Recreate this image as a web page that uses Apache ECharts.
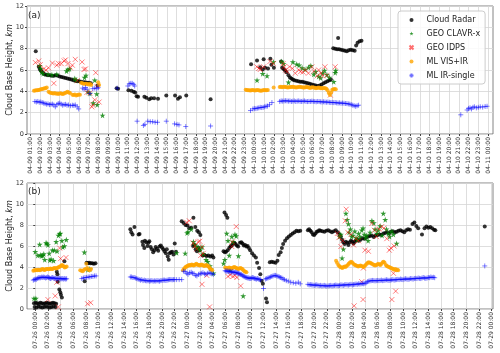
<!DOCTYPE html>
<html>
<head>
<meta charset="utf-8">
<script src="https://cdn.jsdelivr.net/npm/echarts@6/dist/echarts.min.js"></script>
<style>
html, body { margin: 0; padding: 0; background: #fff; }
#chart { width: 500px; height: 353px; }
</style>
</head>
<body>
<div id="chart"></div>
<script>
// x = hours since 04-09 00:00 (panel a) / since 07-26 00:00 (panel b), y = km
var ticksA = [1,2,3,4,5,6,7,8,9,10,11,12,13,14,15,16,17,18,19,20,21,22,23,24,25,26,27,28,29,30,31,32,33,34,35,36,37,38,39,40,41,42,43,44,45,46,47,48];
var ticksB = [0,2,4,6,8,10,12,14,16,18,20,22,24,26,28,30,32,34,36,38,40,42,44,46,48,50,52,54,56,58,60,62,64,66,68,70,72];

var radarA = [[1.54,7.75],[1.85,6.3],[1.95,6.1],[2.05,5.95],[2.15,5.85],[2.3,5.7],[2.45,5.6],[2.6,5.55],[2.8,5.5],[3.0,5.5],[3.2,5.45],[3.4,5.45],[3.6,5.5],[3.8,5.45],[4.0,5.4],[4.2,5.35],[4.4,5.3],[4.6,5.25],[4.8,5.2],[5.0,5.15],[5.2,5.1],[5.4,5.05],[5.6,5.0],[5.8,4.95],[6.0,4.95],[6.2,4.9],[6.4,4.85],[6.6,4.85],[6.8,4.8],[7.0,4.8],[7.2,4.75],[7.9,4.55],[9.85,4.3],[10.0,4.25],
  [11.06,4.1],[11.37,4.05],[11.6,3.95],[11.75,3.88],[11.9,3.55],[12.05,3.5],[12.7,3.5],[12.9,3.4],[13.2,3.25],[13.4,3.35],[13.7,3.35],[14.1,3.3],[14.95,3.6],[15.85,3.6],[16.15,3.3],[16.35,3.45],[17.0,3.6],[19.5,3.25],
  [23.66,6.55],[24.27,6.9],[24.95,7.0],[25.64,7.05],[24.6,6.25],[24.85,6.05],[25.1,6.2],[25.4,6.15],[25.75,6.5],[26.0,6.2],
  [26.74,6.8],[26.85,6.2],[27.0,6.1],[27.15,5.95],[27.3,5.8],[27.5,5.5],[27.65,5.3],[27.8,5.2],[27.95,5.1],[28.1,5.05],[28.3,5.0],[28.5,4.95],[28.7,4.9],[28.9,4.9],[29.1,4.85],[29.3,4.8],[29.5,4.75],[29.7,4.7],[29.9,4.65],[30.1,4.6],[30.3,4.55],[30.5,4.5],[30.7,4.55],[30.9,4.65],[31.1,4.75],[31.3,4.85],[31.5,4.95],[31.7,5.05],[31.85,5.1],
  [32.1,8.05],[32.3,8.0],[32.5,7.95],[32.6,9.0],[32.7,7.95],[32.9,7.9],[33.1,7.85],[33.3,7.8],[33.5,7.75],[33.7,7.85],[33.9,7.9],[34.1,7.85],[34.3,7.8],[34.45,8.3],[34.6,8.55],[34.8,8.7],[35.0,8.75]];

var clavrA = [[1.95,6.4],[2.05,6.1],[2.15,5.8],[2.3,5.65],[2.8,5.6],[3.2,5.55],[3.7,5.6],[4.7,5.9],[4.85,6.05],[5.0,6.1],[5.55,5.2],[5.7,5.05],[6.55,5.3],[6.7,5.5],[6.9,3.95],[7.1,3.8],[7.6,5.05],[7.8,3.75],[7.45,2.9],[7.85,2.75],[8.4,1.75],
  [24.27,5.05],[24.85,5.65],[25.3,5.45],[25.95,6.75],[26.8,6.8],[27.0,6.6],[27.5,4.85],[27.95,6.75],[28.35,6.55],[28.6,6.45],[28.9,6.2],[29.2,6.05],[29.55,6.25],[29.8,6.4],[30.1,5.6],[30.3,5.85],[30.6,5.4],[30.8,5.25],[31.0,5.7],[31.2,5.95],[31.45,5.55],[31.7,5.3],[32.15,4.9],[32.3,5.75],[32.35,5.95]];

var idpsA = [[1.5,6.7],[1.85,6.85],[2.0,6.5],[2.35,6.1],[2.6,6.0],[2.85,6.2],[3.25,6.65],[3.4,4.75],[3.7,6.45],[3.9,6.6],[4.15,6.6],[4.45,6.85],[4.6,6.95],[4.85,6.6],[5.1,6.2],[5.3,6.45],[5.6,7.0],[5.8,5.0],[6.3,6.75],[6.5,6.05],[6.65,6.1],[6.8,3.9],[7.1,3.85],[7.3,2.55],[7.4,2.7],[7.6,3.2],[7.7,5.75],[7.85,4.45],[8.05,3.0],
  [24.25,6.3],[24.45,6.15],[24.6,6.05],[24.95,6.3],[25.6,6.8],[25.95,6.6],[26.95,6.6],[27.05,6.3],[27.2,6.0],[27.35,5.85],[27.6,6.3],[27.9,6.15],[28.2,5.7],[28.55,6.0],[28.75,5.85],[29.0,5.8],[29.25,6.0],[29.55,5.7],[29.9,6.3],[30.1,5.9],[30.45,5.45],[30.6,6.0],[30.85,5.7],[31.0,5.45],[31.25,6.3],[31.45,5.5],[31.8,3.65],[32.3,6.3]];

var visirA = [[1.35,4.05],[1.47,4.08],[1.59,4.1],[1.71,4.1],[1.83,4.12],[1.95,4.15],[2.07,4.2],[2.19,4.22],[2.31,4.25],[2.43,4.3],[2.55,4.3],[2.67,4.35],
  [2.85,3.95],[2.98,3.9],[3.11,3.85],[3.24,3.82],[3.37,3.8],[3.5,3.85],[3.63,3.78],[3.76,3.8],[3.89,3.75],[4.02,3.82],[4.15,3.8],[4.28,3.75],[4.41,3.78],[4.54,3.85],[4.67,3.9],[4.8,3.95],[4.93,3.88],[5.06,3.85],
  [5.3,3.68],[5.43,3.65],[5.56,3.7],[5.69,3.62],[5.82,3.65],[5.95,3.7],[6.08,3.68],
  [6.2,4.8],[6.33,4.75],[6.46,4.7],[6.59,4.7],[6.72,4.72],[6.85,4.68],[6.98,4.65],[7.11,4.7],[7.24,4.6],[7.95,4.85],[8.05,4.6],
  [23.1,4.15],[23.22,4.12],[23.34,4.1],[23.46,4.1],[23.58,4.08],[23.7,4.1],[23.82,4.12],[23.94,4.1],[24.06,4.08],[24.18,4.1],[24.3,4.12],[24.42,4.1],[24.54,4.08],[24.66,4.05],[24.78,4.08],[24.9,4.1],[25.02,4.12],[25.14,4.1],[25.26,4.1],[25.38,4.12],[25.98,4.35],
  [26.6,4.4],[26.72,4.42],[26.84,4.38],[26.96,4.4],[27.08,4.42],[27.2,4.4],[27.32,4.38],[27.44,4.36],[27.56,4.38],[27.68,4.4],[27.8,4.4],[27.92,4.42],[28.04,4.4],[28.16,4.38],[28.28,4.35],[28.4,4.38],[28.52,4.4],[28.64,4.42],[28.76,4.4],[28.88,4.38],[29.0,4.36],[29.12,4.35],[29.24,4.38],[29.36,4.4],[29.48,4.38],[29.6,4.35],[29.72,4.32],[29.84,4.35],[29.96,4.38],[30.08,4.36],[30.2,4.34],[30.32,4.3],[30.44,4.32],[30.56,4.35],[30.68,4.33],[30.8,4.3],[30.92,4.28],[31.04,4.3],[31.16,4.32],[31.28,4.3],[31.4,4.25],[31.52,4.1],[31.64,3.85],[31.76,3.65],[31.88,3.9],[32.0,4.15],[32.12,4.2],[32.24,4.22],[32.36,4.2]];

var irA = [[1.45,3.05],[1.6,3.0],[1.75,3.05],[1.9,2.98],[2.05,3.0],[2.2,2.95],[2.35,2.9],[2.5,2.85],[2.65,2.8],[2.8,2.82],[2.95,2.75],[3.1,2.78],[3.25,2.8],[3.4,2.72],[3.55,2.55],[3.7,2.75],[3.85,2.85],[4.0,2.9],[4.15,2.8],[4.3,2.7],[4.45,2.75],[4.6,2.78],[4.75,2.7],[4.9,2.72],[5.1,2.65],[5.3,2.7],[5.45,2.68],[5.6,2.72],[5.8,2.55],[5.95,2.35],[6.35,4.3],[6.5,4.2],[6.65,4.35],[6.8,4.2],[7.1,3.8],[7.4,4.25],[7.6,4.3],[7.8,4.25],[7.95,4.35],[9.9,4.3],
  [11.0,4.5],[11.15,4.7],[11.3,4.75],[11.45,4.75],[11.6,4.65],[11.7,4.5],[11.95,1.2],[12.6,0.8],[12.75,0.9],[13.05,1.2],[13.3,1.15],[13.55,1.15],[13.8,1.1],[14.05,1.1],[14.95,1.2],[15.8,0.95],[16.05,0.9],[16.25,0.85],[16.95,0.7],[19.5,0.75],
  [23.6,2.2],[23.85,2.35],[24.0,2.4],[24.15,2.38],[24.3,2.42],[24.45,2.45],[24.6,2.5],[24.75,2.48],[24.9,2.5],[25.05,2.55],[25.2,2.6],[25.35,2.62],[25.55,2.75],[25.8,2.95],
  [26.6,3.05],[26.75,3.1],[26.9,3.08],[27.05,3.1],[27.2,3.12],[27.35,3.1],[27.5,3.08],[27.65,3.1],[27.8,3.05],[27.95,3.08],[28.1,3.1],[28.25,3.05],[28.4,3.08],[28.55,3.1],[28.7,3.06],[28.85,3.05],[29.0,3.08],[29.15,3.1],[29.3,3.05],[29.45,3.04],[29.6,3.06],[29.75,3.05],[29.9,3.08],[30.05,3.06],[30.2,3.04],[30.35,3.02],[30.5,3.05],[30.65,3.04],[30.8,3.02],[30.95,3.0],[31.1,3.02],[31.25,3.0],[31.4,2.98],[31.55,3.0],[31.7,2.97],[31.85,2.95],[32.0,2.96],[32.15,2.94],[32.3,2.95],[32.45,2.92],[32.6,2.9],[32.75,2.92],[32.9,2.88],[33.05,2.9],[33.2,2.88],[33.35,2.86],[33.5,2.85],[33.65,2.82],[33.8,2.8],[33.95,2.75],[34.1,2.7],[34.25,2.65],[34.4,2.6],[34.55,2.65],[34.7,2.7],
  [45.2,1.8],[45.85,2.25],[46.0,2.4],[46.15,2.45],[46.3,2.35],[46.45,2.5],[46.6,2.55],[46.8,2.45],[47.0,2.5],[47.2,2.55],[47.45,2.52],[47.7,2.58],[47.9,2.6]];

var radarB = [[-0.2,0.55],[0.05,0.6],[0.3,0.55],[0.55,0.5],[0.8,0.6],[1.05,0.55],[1.3,0.5],[1.55,0.55],[1.8,0.6],[2.05,0.55],[2.3,0.5],[2.55,0.55],[2.8,0.6],[3.05,0.55],[3.3,0.5],
  [-0.1,0.2],[0.2,0.15],[0.5,0.25],[0.8,0.2],[1.1,0.15],[1.4,0.2],[1.7,0.25],[2.0,0.2],[2.3,0.15],[2.6,0.2],[2.9,0.25],[3.2,0.2],
  [3.4,3.55],[3.5,3.3],[3.55,2.6],[3.8,1.85],[3.95,1.6],[4.05,1.35],[4.2,1.1],[4.6,4.55],
  [7.8,2.65],[8.1,4.4],[8.3,4.35],[8.5,4.4],[8.75,4.35],[9.0,4.35],[9.25,4.3],[9.5,4.35],
  [15.0,7.6],[15.15,7.3],[15.35,7.1],[15.65,7.8],[16.3,7.1],[16.45,7.15],[16.9,6.4],[17.0,6.1],[17.2,5.8],[17.3,6.5],[17.5,6.35],[17.7,6.0],[17.85,6.3],[18.0,6.45],[18.2,5.9],[18.4,5.7],[18.6,5.4],[18.8,5.6],[19.0,5.9],[19.2,5.75],[19.4,5.55],[19.6,5.95],[19.8,6.05],[20.0,5.85],[20.2,5.7],[20.4,5.5],[20.6,5.3],[20.75,5.7],[20.9,5.0],[21.05,4.7],[21.2,5.3],[21.4,5.4],[21.6,5.45],[21.8,5.2],[22.0,6.25],[22.2,5.45],
  [23.1,8.35],[23.4,8.2],[23.7,8.0],[24.0,7.95],[24.3,7.7],[24.6,7.75],[24.95,8.7],[25.25,7.8],[25.55,7.45],[25.8,7.3],[26.05,7.05],[24.9,6.0],[25.1,6.1],[25.3,5.7],[25.5,5.5],[25.7,5.85],[25.9,5.6],[26.4,5.1],[26.7,5.15],[27.0,5.05],[27.3,5.1],[27.6,5.0],[27.9,5.1],[28.1,4.9],
  [29.85,9.2],[30.1,8.95],[30.3,8.7],
  [29.7,5.5],[29.9,5.4],[30.1,5.45],[30.35,5.6],[30.6,5.8],[30.8,5.95],[31.0,6.05],[31.2,6.25],[31.4,6.3],[31.6,6.2],[31.8,6.05],[32.0,5.95],[32.3,6.3],[32.5,6.35],[32.7,6.25],[32.9,6.05],[33.1,6.1],[33.3,5.95],[33.5,6.0],[33.7,5.8],[33.9,5.6],[34.2,5.3],[34.5,5.1],[34.8,4.9],[35.0,4.4],[35.3,3.9],[35.5,3.3],[35.7,2.7],[35.9,2.4],[36.4,1.0],[36.55,0.65],
  [37.0,4.45],[37.3,4.5],[37.6,4.45],[37.9,4.4],[38.2,4.6],[38.4,5.15],[38.7,5.4],[38.9,5.8],[39.1,6.2],[39.4,6.5],[39.7,6.75],[40.0,6.9],[40.3,7.05],[40.6,7.2],[40.9,7.3],[41.2,7.45],[41.5,7.4],[41.8,7.45],
  [43.0,7.5],[43.2,7.6],[43.4,7.45],[43.6,7.3],[43.8,7.1],[44.0,7.05],[44.2,7.2],[44.4,7.35],[44.6,7.4],[44.8,7.5],[45.0,7.45],[45.3,7.4],[45.6,7.35],[45.9,7.45],[46.2,7.5],[46.5,7.4],[46.8,7.3],[47.1,7.4],[47.4,7.5],[47.7,7.3],[48.0,7.1],[48.2,6.9],[48.4,6.6],[48.6,6.35],[48.8,6.2],[49.0,6.4],[49.2,6.3],[49.4,6.1],[49.6,6.35],[49.8,6.5],[50.0,6.4],[50.2,6.25],[50.4,6.4],[50.6,6.55],[50.8,6.6],[51.0,6.5],[51.3,6.6],[51.6,6.75],[51.9,6.7],[52.2,6.8],[52.5,6.9],[52.8,6.95],[53.1,7.0],[53.4,6.85],[53.7,7.0],[54.0,7.05],[54.3,7.1],[54.6,7.05],[54.9,7.2],[55.2,7.25],[55.5,7.3],[55.8,7.2],[56.1,7.35],[56.4,7.4],[56.7,7.3],[57.0,7.35],[57.3,7.45],[57.6,7.5],[57.9,7.4],[58.2,7.3],[58.5,7.5],[58.8,7.6],[59.1,7.55],[59.5,8.1],[59.8,8.25],[60.1,7.9],[60.4,7.7],[61.0,7.1],[61.4,7.7],[61.7,7.85],[62.0,7.75],[62.3,7.8],[62.6,7.7],[62.9,7.55],[63.1,7.5],[70.9,7.85]];

var clavrB = [[-0.2,1.0],[0.1,1.0],[0.0,5.45],[0.4,5.1],[0.7,6.15],[0.8,5.15],[1.0,5.05],[1.2,5.1],[1.35,5.25],[1.5,4.7],[1.7,6.3],[1.85,6.25],[2.0,6.1],[2.2,5.3],[2.3,4.65],[2.5,4.75],[2.7,5.6],[2.9,4.6],[3.0,5.6],[3.3,6.4],[3.45,5.5],[3.65,7.0],[3.85,7.15],[3.95,7.2],[4.2,6.5],[4.35,5.9],[4.6,6.0],[4.9,6.6],
  [7.75,5.4],[8.3,3.75],[8.6,3.8],
  [22.3,5.35],[23.65,5.3],[23.95,7.25],[24.1,7.35],[24.6,7.6],[24.95,6.4],[25.2,6.1],[25.5,5.9],[25.75,5.8],[26.0,5.6],[26.3,5.9],[26.5,5.25],[26.95,4.7],[27.2,4.5],[27.55,4.1],[27.7,3.85],[28.1,3.4],
  [29.7,4.35],[29.9,4.7],[30.2,7.2],[30.4,6.5],[30.6,5.1],[30.75,3.7],[31.0,6.9],[31.2,6.4],[31.5,7.1],[31.7,6.95],[32.05,5.05],[32.8,1.25],
  [48.0,6.9],[48.2,7.1],[48.4,4.85],[48.6,5.7],[49.0,9.1],[49.2,8.5],[49.4,8.1],[49.5,7.3],[49.7,7.6],[49.9,6.9],[50.1,7.0],[50.4,7.4],[50.6,6.8],[50.8,6.6],[51.0,7.2],[51.2,6.9],[51.5,7.5],[51.7,7.7],[51.9,7.1],[52.1,6.8],[52.3,7.0],[52.5,6.5],[52.8,7.3],[53.1,8.4],[53.4,8.2],[53.6,7.6],[53.9,7.2],[54.1,7.5],[54.4,7.9],[54.7,7.0],[54.9,9.1],[55.2,8.5],[55.4,7.6],[55.7,7.2],[55.9,6.9],[56.2,7.4],[56.5,7.1],[57.0,6.25]];

var idpsB = [[2.0,0.9],[3.15,1.25],[3.4,2.55],[3.65,0.2],[3.85,5.8],[4.0,4.8],[4.85,4.9],[8.25,0.5],[8.75,0.6],
  [23.9,8.25],[24.3,8.4],[24.9,6.3],[25.2,6.0],[25.45,5.7],[25.7,6.4],[25.95,6.45],[26.1,5.1],[26.3,5.9],[26.5,5.3],[26.3,2.35],[27.05,3.2],[27.5,0.2],[30.4,3.1],[30.75,3.25],[31.0,5.95],[31.1,6.4],[31.2,3.1],[31.5,3.2],[31.7,7.85],[31.8,3.0],[32.4,2.2],
  [47.65,7.2],[47.9,6.8],[48.2,5.95],[48.5,6.5],[48.9,8.4],[49.05,9.5],[49.3,7.3],[49.8,7.1],[50.2,6.1],[50.3,0.3],[50.6,6.7],[51.0,6.5],[51.5,2.6],[51.7,0.9],[51.75,3.9],[52.0,5.6],[52.55,5.5],[53.1,8.15],[53.5,7.5],[53.8,6.9],[54.2,7.6],[54.65,7.85],[55.0,7.7],[55.45,6.7],[55.85,5.6],[56.1,5.8],[56.25,0.9],[56.5,3.4],[56.6,6.0],[56.85,1.7]];

var visirB = [[-0.3,3.65],[-0.15,3.7],[0,3.68],[0.15,3.72],[0.3,3.7],[0.45,3.75],[0.6,3.72],[0.75,3.7],[0.9,3.75],[1.05,3.78],[1.2,3.8],[1.35,3.75],[1.5,3.72],[1.65,3.78],[1.8,3.8],[1.95,3.82],[2.1,3.78],[2.25,3.8],[2.4,3.85],[2.55,3.82],[2.7,3.8],[2.85,3.85],[3.0,3.9],[3.15,3.88],[3.3,3.85],[3.45,3.9],[3.6,3.95],[3.75,4.0],[3.9,4.05],[4.05,4.1],[4.2,4.2],[4.35,4.15],[4.5,4.05],[4.65,3.95],[4.8,4.0],[4.95,4.05],
  [7.1,3.7],[7.3,3.65],[7.5,3.6],[7.7,3.75],[7.9,3.8],[8.05,4.3],[8.2,3.9],[8.4,3.75],[8.6,3.7],[8.8,3.8],
  [23.3,3.7],[23.44,3.8],[23.58,3.9],[23.72,4.0],[23.86,4.05],[24.0,4.1],[24.14,4.15],[24.28,4.2],[24.42,4.15],[24.56,4.2],[24.7,4.25],[24.84,4.2],[24.98,4.15],[25.12,4.2],[25.26,4.25],[25.4,4.3],[25.54,4.25],[25.68,4.2],[25.82,4.2],[25.96,4.15],[26.1,4.2],[26.24,4.25],[26.38,4.2],[26.52,4.15],[26.66,4.1],[26.8,4.15],[26.94,4.2],[27.08,4.15],[27.22,4.1],[27.36,4.05],[27.5,3.9],[27.64,3.8],[27.78,3.75],[27.92,3.7],
  [29.95,3.95],[30.11,3.9],[30.27,3.85],[30.43,3.9],[30.59,3.95],[30.75,3.9],[30.91,3.85],[31.07,3.9],[31.23,3.95],[31.39,4.0],[31.55,3.95],[31.71,3.9],[31.87,3.85],[32.03,3.8],[32.19,3.85],[32.35,3.9],[32.51,3.85],[32.67,3.8],[32.83,3.7],[32.99,3.6],[33.15,3.55],[33.31,3.5],
  [47.45,4.6],[47.6,4.4],[47.8,4.2],[47.95,4.1],[48.1,4.0],[48.3,3.95],[48.45,3.9],[48.6,4.0],[48.8,4.05],[48.95,4.0],[49.1,4.1],[49.3,4.2],[49.45,4.3],[49.6,4.4],[49.8,4.5],[49.95,4.45],[50.1,4.35],[50.3,4.25],[50.45,4.2],[50.6,4.15],[50.8,4.1],[50.95,4.05],[51.1,4.1],[51.3,4.15],[51.45,4.1],[51.6,4.05],[51.8,4.0],[51.95,4.1],[52.1,4.2],[52.3,4.3],[52.45,4.4],[52.6,4.45],[52.8,4.4],[52.95,4.35],[53.1,4.3],[53.3,4.25],[53.45,4.2],[53.6,4.15],[53.8,4.2],[53.95,4.25],[54.1,4.3],[54.3,4.25],[54.45,4.2],[54.6,4.3],[54.8,4.45],[54.95,4.5],[55.1,4.4],[55.3,4.2],[55.45,4.1],[55.6,4.05],[55.8,4.0],[55.95,3.95],[56.1,3.9],[56.3,3.85],[56.45,3.8],[56.6,3.75],[56.8,3.8],[56.95,3.7],[57.1,3.75],[57.25,3.7]];

var irB = [[-0.3,2.75],[-0.15,2.8],[0,2.85],[0.15,2.8],[0.3,2.9],[0.45,2.95],[0.6,3.0],[0.75,2.95],[0.9,3.0],[1.05,3.05],[1.2,3.0],[1.35,3.05],[1.5,3.0],[1.65,2.95],[1.8,3.0],[1.95,3.05],[2.1,3.0],[2.25,2.95],[2.4,2.9],[2.55,2.95],[2.7,3.0],[2.85,2.95],[3.0,2.9],[3.15,2.95],[3.3,2.9],[3.45,2.85],[3.6,2.9],[3.75,2.95],[3.9,2.9],[4.05,2.85],[4.2,2.9],[4.35,2.88],[4.5,2.85],[4.65,2.9],[4.8,2.85],[4.95,2.88],
  [7.35,2.9],[7.6,2.95],[7.85,3.0],[8.1,3.0],[8.35,3.05],[8.6,3.05],[8.85,3.1],[9.1,3.1],[9.35,3.15],[9.6,3.15],
  [15.0,3.05],[15.2,3.05],[15.4,3.0],[15.6,3.0],[15.8,2.95],[16.0,2.9],[16.2,2.85],[16.4,2.8],[16.6,2.75],[16.8,2.8],[17.0,2.7],[17.2,2.75],[17.4,2.7],[17.6,2.68],[17.8,2.7],[18.0,2.65],[18.2,2.68],[18.4,2.7],[18.6,2.65],[18.8,2.68],[19.0,2.66],[19.2,2.7],[19.4,2.68],[19.6,2.65],[19.8,2.7],[20.0,2.72],[20.2,2.75],[20.4,2.75],[20.6,2.72],[20.8,2.75],[21.0,2.78],[21.2,2.8],[21.4,2.8],[21.6,2.78],[21.8,2.8],[22.0,2.8],[22.3,2.8],[22.7,2.8],[23.1,2.8],
  [23.4,3.6],[23.65,3.55],[23.9,3.4],[24.1,3.3],[24.35,3.45],[24.6,3.5],[24.8,3.4],[25.05,3.35],[25.3,3.2],[25.5,3.15],[25.75,3.3],[26.0,3.35],[26.2,3.4],[26.45,3.45],[26.7,3.35],[26.9,3.3],[27.15,3.4],[27.4,3.45],[27.6,3.4],[27.85,3.35],[28.1,3.3],
  [29.95,3.65],[30.1,3.6],[30.25,3.62],[30.4,3.6],[30.55,3.55],[30.7,3.6],[30.85,3.55],[31.0,3.5],[31.15,3.55],[31.3,3.5],[31.45,3.48],[31.6,3.5],[31.75,3.45],[31.9,3.42],[32.05,3.4],[32.2,3.35],[32.35,3.3],[32.5,3.3],[32.65,3.2],[32.8,3.15],[32.95,3.1],[33.1,3.05],[33.25,3.0],
  [33.4,2.98],[33.55,2.95],[33.7,2.95],[33.85,2.9],[34.0,2.92],[34.15,2.95],[34.3,3.0],[34.45,2.95],[34.6,2.9],[34.75,2.88],[34.9,2.85],[35.05,2.9],[35.2,2.85],[35.4,2.8],[35.55,2.78],[36.0,1.95],[36.3,2.85],[36.5,2.9],[36.7,2.95],[36.9,3.0],[37.1,3.05],[37.3,3.1],[37.5,3.15],[37.7,3.2],[37.9,3.2],[38.1,3.15],[38.3,3.1],[38.5,3.05],[38.7,3.0],[38.9,2.95],[39.1,2.85],[39.3,2.8],[39.6,2.7],[39.9,2.65],[40.3,2.55],[40.7,2.5],[41.1,2.45],[41.5,2.55],[41.8,2.4],
  [43.0,2.35],[43.2,2.3],[43.4,2.32],[43.6,2.3],[43.8,2.28],[44.0,2.25],[44.2,2.28],[44.4,2.3],[44.6,2.25],[44.8,2.22],[45.0,2.25],[45.2,2.2],[45.4,2.22],[45.6,2.25],[45.8,2.2],[46.0,2.18],[46.2,2.2],[46.4,2.22],[46.6,2.25],[46.8,2.2],[47.0,2.22],[47.2,2.25],[47.4,2.28],[47.6,2.25],[47.8,2.22],[48.0,2.25],[48.2,2.3],[48.4,2.28],[48.6,2.25],[48.8,2.3],[49.0,2.32],[49.2,2.3],[49.4,2.28],[49.6,2.32],[49.8,2.35],[50.0,2.3],[50.2,2.32],[50.4,2.35],[50.6,2.38],[50.8,2.35],[51.0,2.4],[51.2,2.38],[51.4,2.4],[51.6,2.42],[51.8,2.4],[52.0,2.45],[52.2,2.5],[52.4,2.6],
  [52.6,2.65],[52.8,2.68],[53.0,2.7],[53.2,2.72],[53.4,2.7],[53.6,2.68],[53.8,2.7],[54.0,2.72],[54.2,2.7],[54.4,2.72],[54.6,2.75],[54.8,2.7],[55.0,2.72],[55.2,2.75],[55.4,2.78],[55.6,2.75],[55.8,2.72],[56.0,2.75],[56.2,2.78],[56.4,2.8],[56.6,2.75],[56.8,2.78],[57.0,2.8],[57.2,2.82],[57.4,2.8],[57.6,2.85],[57.8,2.82],[58.0,2.8],[58.2,2.85],[58.4,2.88],[58.6,2.85],[58.8,2.82],[59.0,2.85],[59.2,2.9],[59.4,2.88],[59.6,2.85],[59.8,2.9],[60.0,2.92],[60.2,2.9],[60.4,2.95],[60.6,2.92],[60.8,2.9],[61.0,2.95],[61.2,3.0],[61.4,2.95],[61.6,2.92],[61.8,2.95],[62.0,3.0],[62.2,2.98],[62.4,3.05],[62.6,3.0],[62.8,3.02],[63.0,2.98],
  [70.9,4.1]];

var STAR = 'path://M50,0L61,35L98,35L68,57L79,91L50,70L21,91L32,57L2,35L39,35Z';
var CROSS = 'path://M0,0L10,10M10,0L0,10';
var PLUS = 'path://M5,0L5,10M0,5L10,5';

var looks = {
  'Cloud Radar': { symbol: 'circle', symbolSize: 4, itemStyle: { color: '#000' } },
  'GEO CLAVR-x': { symbol: STAR, symbolSize: 6, itemStyle: { color: '#008000' } },
  'GEO IDPS': { symbol: CROSS, symbolSize: 5, itemStyle: { color: 'none', borderColor: 'rgba(255,0,0,0.7)', borderWidth: 0.9 } },
  'ML VIS+IR': { symbol: 'circle', symbolSize: 4, itemStyle: { color: '#ffa500' } },
  'ML IR-single': { symbol: PLUS, symbolSize: 5, itemStyle: { color: 'none', borderColor: 'rgba(0,0,255,0.7)', borderWidth: 0.9 } }
};

function pad(n) { return n < 10 ? '0' + n : '' + n; }
function labelA(h) { return '04-' + pad(9 + Math.floor(h / 24)) + ' ' + pad(h % 24) + ':00'; }
function labelB(h) { return '07-' + pad(26 + Math.floor(h / 24)) + ' ' + pad(h % 24) + ':00'; }

function makeX(idx, min, max, ticks, fmt) {
  return {
    type: 'value', gridIndex: idx, min: min, max: max,
    axisLine: { show: false },
    axisTick: { show: true, customValues: ticks, length: 2, lineStyle: { color: '#444' } },
    axisLabel: { customValues: ticks, formatter: fmt, rotate: 90, fontSize: 6, margin: 3, color: '#333', fontFamily: 'DejaVu Sans' },
    splitLine: { show: true, lineStyle: { color: '#d6d6d6', width: 0.8 } }
  };
}
function makeY(idx) {
  return {
    type: 'value', gridIndex: idx, min: 0, max: 12, interval: 2,
    axisLine: { show: false },
    axisTick: { show: true, length: 2, lineStyle: { color: '#444' } },
    axisLabel: { fontSize: 6.5, margin: 3, color: '#333', fontFamily: 'DejaVu Sans' },
    splitLine: { show: true, lineStyle: { color: '#d6d6d6', width: 0.8 } },
    name: '{n|Cloud Base Height, }{i|km}',
    nameLocation: 'middle', nameGap: 13, nameMoveOverlap: false,
    nameTextStyle: { rich: {
      n: { fontSize: 8, color: '#222', fontFamily: 'DejaVu Sans' },
      i: { fontSize: 8, color: '#222', fontFamily: 'DejaVu Sans', fontStyle: 'italic' }
    } }
  };
}
function sc(name, data, idx) {
  var l = looks[name];
  return { type: 'scatter', name: name, xAxisIndex: idx, yAxisIndex: idx, data: data,
    symbol: l.symbol, symbolSize: l.symbolSize, itemStyle: l.itemStyle };
}

var chart = echarts.init(document.getElementById('chart'), null, { renderer: 'canvas' });
chart.setOption({
  animation: false,
  backgroundColor: '#fff',
  title: [
    { text: '(a)', left: 28, top: 11, padding: 0, textStyle: { fontSize: 9, fontWeight: 'normal', color: '#222', fontFamily: 'DejaVu Sans' } },
    { text: '(b)', left: 28, top: 187, padding: 0, textStyle: { fontSize: 9, fontWeight: 'normal', color: '#222', fontFamily: 'DejaVu Sans' } }
  ],
  legend: {
    left: 398, top: 11, orient: 'vertical',
    itemWidth: 4, itemHeight: 4, itemGap: 5.5,
    padding: [5, 5, 4, 9],
    backgroundColor: 'rgba(255,255,255,0.85)', borderColor: '#ccc', borderWidth: 1, borderRadius: 3,
    textStyle: { fontSize: 8, color: '#222', fontFamily: 'DejaVu Sans', padding: [0, 0, 0, 8] },
    data: ['Cloud Radar', 'GEO CLAVR-x', 'GEO IDPS', 'ML VIS+IR', 'ML IR-single']
  },
  grid: [
    { left: 27, right: 7, top: 6, height: 128, show: true, borderColor: '#666', borderWidth: 0.8, containLabel: false, outerBoundsMode: 'none' },
    { left: 27, right: 7, top: 183, height: 126, show: true, borderColor: '#666', borderWidth: 0.8, containLabel: false, outerBoundsMode: 'none' }
  ],
  xAxis: [makeX(0, 0.64, 48.51, ticksA, labelA), makeX(1, -1.3, 72.2, ticksB, labelB)],
  yAxis: [makeY(0), makeY(1)],
  series: [
    sc('Cloud Radar', radarA, 0), sc('GEO CLAVR-x', clavrA, 0), sc('GEO IDPS', idpsA, 0), sc('ML VIS+IR', visirA, 0), sc('ML IR-single', irA, 0),
    sc('Cloud Radar', radarB, 1), sc('GEO CLAVR-x', clavrB, 1), sc('GEO IDPS', idpsB, 1), sc('ML VIS+IR', visirB, 1), sc('ML IR-single', irB, 1)
  ]
});
</script>
</body>
</html>
